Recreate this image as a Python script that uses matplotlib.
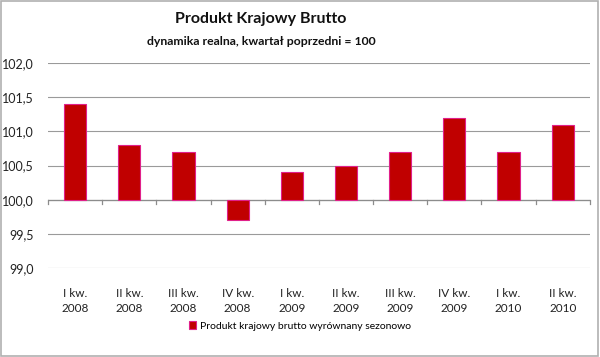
import matplotlib
matplotlib.use("Agg")
import matplotlib.pyplot as plt
from matplotlib.ticker import FuncFormatter
from matplotlib.patches import Rectangle

categories = ["I kw.\n2008", "II kw.\n2008", "III kw.\n2008", "IV kw.\n2008",
              "I kw.\n2009", "II kw.\n2009", "III kw.\n2009", "IV kw.\n2009",
              "I kw.\n2010", "II kw.\n2010"]
values = [101.4, 100.8, 100.7, 99.7, 100.4, 100.5, 100.7, 101.2, 100.7, 101.1]
base = 100.0
series_name = "Produkt krajowy brutto wyrównany sezonowo"

plt.rcParams['font.family'] = ['Lato', 'DejaVu Sans']

fig = plt.figure(figsize=(6.0, 3.57), dpi=100)
fig.patch.set_facecolor('white')
fig.patches.append(Rectangle((0.002, 0.002), 0.995, 0.995, transform=fig.transFigure,
                             fill=False, edgecolor='#b0b0b0', linewidth=1.2))
ax = fig.add_axes([0.08, 0.249, 0.903, 0.5745])

x = list(range(len(values)))
heights = [v - base for v in values]
ax.bar(x, heights, bottom=base, width=0.41, color='#C00000', edgecolor='#E0208A',
       linewidth=0.8, zorder=3, label=series_name)

ax.set_ylim(99.0, 102.0)
ax.set_xlim(-0.5, len(values) - 0.5)
ax.set_yticks([99.0, 99.5, 100.0, 100.5, 101.0, 101.5, 102.0])
ax.yaxis.set_major_formatter(FuncFormatter(lambda v, p: f"{v:.1f}".replace('.', ',')))
ax.grid(axis='y', color='#9a9a9a', linewidth=0.8, zorder=0)
for s in ax.spines.values():
    s.set_visible(False)
ax.tick_params(axis='y', length=0, labelsize=9, pad=10, colors='#222222')
ax.set_xticks(x)
ax.set_xticklabels(categories, fontsize=8.5, color='#222222', linespacing=1.45)
ax.tick_params(axis='x', length=0, pad=14)

# category axis at baseline 100 with boundary tick marks
ax.axhline(base, color='#8c8c8c', linewidth=0.9, zorder=2)
for b in [i - 0.5 for i in range(len(values) + 1)]:
    ax.plot([b, b], [base, base - 0.06], color='#8c8c8c', linewidth=0.9, zorder=2,
            clip_on=False)

fig.text(0.435, 0.947, "Produkt Krajowy Brutto", ha='center', va='center',
         fontsize=11.5, fontweight='bold', color='#111111')
fig.text(0.435, 0.883, "dynamika realna, kwartał poprzedni = 100", ha='center',
         va='center', fontsize=8.8, fontweight='bold', color='#111111')

fig.legend(loc='center', bbox_to_anchor=(0.5, 0.087), frameon=False, fontsize=7.5,
           handlelength=0.7, handleheight=0.7, handletextpad=0.4)

fig.savefig("out.png", dpi=100)
